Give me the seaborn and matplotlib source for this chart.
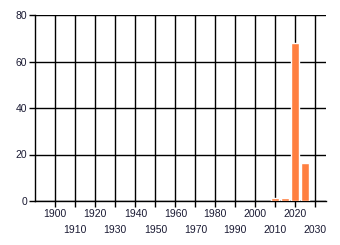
import matplotlib
matplotlib.use("Agg")
import matplotlib.pyplot as plt
import seaborn as sns
import pandas as pd

years = [2010, 2015, 2020, 2025]
values = [1.3, 1.3, 68, 16.3]
xticks = list(range(1900, 2031, 10))
yticks = [0, 20, 40, 60, 80]

sns.set_style("white")
plt.rcParams['font.family'] = ['Liberation Sans', 'DejaVu Sans']

fig = plt.figure(figsize=(3.4, 2.45), dpi=100)
ax = fig.add_axes([35.3/340, 1 - 201/245, (326 - 35.3)/340, (201 - 15)/245])

df = pd.DataFrame({"year": years, "value": values})
sns.barplot(data=df, x="year", y="value", native_scale=True, width=0.8,
            color="#FF7F40", saturation=1, ax=ax, zorder=3)

ax.set_xlim(1890, 2035.3)
ax.set_ylim(0, 80)
ax.set_xticks(xticks)
ax.set_xticklabels([str(t) for t in xticks])
ax.set_yticks(yticks)
ax.set_xlabel("")
ax.set_ylabel("")
ax.grid(True, color="black", linewidth=1)
ax.set_axisbelow(True)
for s in ["top", "right"]:
    ax.spines[s].set_visible(False)
for s in ["left", "bottom"]:
    ax.spines[s].set_color("black")
    ax.spines[s].set_linewidth(1)
ax.tick_params(axis="both", which="both", length=4, width=1, color="black",
               labelsize=7.5, labelcolor="#1a1a33", direction="out", pad=2, bottom=True, left=True)
for i, tk in enumerate(ax.xaxis.get_major_ticks()):
    tk.set_pad(2 if i % 2 == 0 else 13)
fig.savefig("out.png", dpi=100)
